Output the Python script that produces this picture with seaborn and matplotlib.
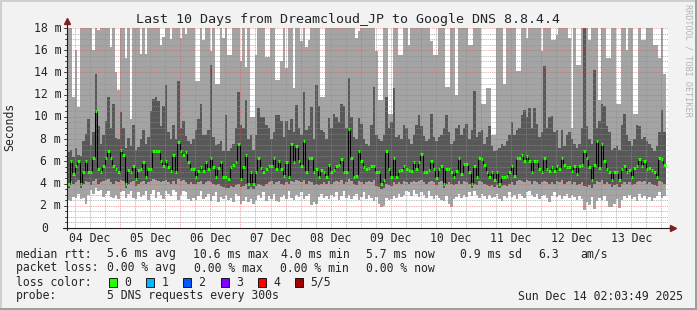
import numpy as np
import pandas as pd
import matplotlib
matplotlib.use("Agg")
import matplotlib.pyplot as plt
import seaborn as sns
from matplotlib.patches import Rectangle
from matplotlib.lines import Line2D

# ---------------- data (hourly bins, ms) ----------------
median_ms = [4.0,6.0,4.9,5.6,6.0,4.0,5.0,6.0,5.0,5.0,
 6.3,10.5,5.3,5.0,5.6,6.3,6.9,6.3,5.6,5.3,
 5.0,7.0,6.6,4.0,5.2,5.0,5.6,4.4,5.2,5.3,
 5.9,4.6,5.3,5.3,6.9,6.9,6.9,6.0,5.6,6.0,
 5.5,5.1,6.6,5.0,7.7,6.9,6.6,6.8,5.9,5.3,
 5.3,4.6,5.1,5.5,5.1,5.9,5.3,6.3,5.5,4.6,
 5.4,5.9,4.6,4.6,4.4,5.5,5.7,5.9,7.6,4.4,
 5.5,6.6,4.0,5.0,4.0,5.0,6.3,5.4,5.0,5.3,
 5.6,5.6,6.3,5.3,6.0,5.3,4.7,5.9,4.6,7.6,
 5.9,7.4,6.0,5.6,7.8,5.0,6.3,6.3,5.0,5.3,
 4.6,5.2,5.0,4.6,5.7,5.0,5.2,5.6,5.7,6.2,
 5.0,5.0,8.9,6.3,4.6,4.7,6.9,6.0,5.5,5.3,
 5.4,5.6,5.6,5.0,5.0,4.0,4.3,6.9,5.3,4.6,
 6.3,4.6,5.1,5.2,5.6,5.3,5.2,5.1,5.9,5.3,
 5.9,6.7,5.0,5.0,5.2,6.0,5.3,4.5,5.3,5.6,
 4.0,5.3,5.3,5.0,4.6,5.1,6.3,4.9,5.8,5.8,
 5.0,4.0,5.6,4.6,6.3,6.2,5.7,5.0,4.6,5.0,
 4.3,5.0,4.0,4.6,4.6,4.7,5.0,5.6,4.7,6.3,
 6.3,6.6,6.0,6.5,6.0,5.0,6.0,6.0,5.3,5.0,
 6.3,5.3,5.1,5.5,5.1,5.6,5.3,6.3,5.7,5.5,
 5.5,5.1,5.6,4.9,5.6,5.7,6.9,6.3,5.5,4.3,
 5.7,7.8,5.4,7.6,6.0,5.3,5.0,4.3,5.0,5.0,
 4.3,5.3,5.6,5.0,5.2,4.6,5.4,5.6,6.2,5.6,
 6.0,5.3,5.4,5.2,5.0,4.6,6.3,6.2,5.7]

# lowest ping (bottom of light smoke)
ping1_ms = [2.5,2.4,2.8,2.7,3.1,2.6,2.7,2.2,3.0,3.4,
 3.1,3.6,3.3,3.4,2.8,3.1,3.3,2.8,2.7,3.0,
 2.6,3.2,3.3,2.7,3.1,3.3,2.7,2.6,3.2,2.8,
 3.0,3.3,2.5,3.1,3.4,2.7,3.2,3.0,2.6,3.3,
 3.1,2.9,3.4,3.2,2.5,3.0,3.3,3.2,2.6,2.4,
 2.7,2.5,2.9,3.3,2.6,2.8,3.1,2.4,2.9,3.2,
 2.3,2.8,2.6,3.0,2.5,2.7,2.3,3.1,2.9,2.2,
 2.4,2.8,2.3,2.6,2.2,2.5,3.0,2.7,3.2,2.4,
 2.9,2.6,3.1,2.4,2.3,2.8,3.0,2.6,3.3,2.7,
 2.5,3.0,2.8,3.2,2.6,2.9,3.1,2.1,2.3,2.2,
 2.8,3.1,2.7,2.9,2.6,3.0,2.8,3.2,2.5,2.9,
 3.3,2.7,3.0,2.6,2.9,3.1,2.5,2.8,3.2,2.6,
 3.0,2.7,2.4,2.8,2.2,1.9,2.0,2.7,2.5,2.6,
 2.9,2.7,3.1,2.8,3.0,3.3,3.2,2.9,3.4,3.1,
 2.8,3.2,3.0,2.7,3.3,2.9,2.6,3.0,2.7,2.5,
 2.4,2.9,2.2,1.9,2.6,2.8,3.1,2.7,3.0,2.8,
 3.2,2.9,3.3,3.0,2.7,3.1,2.9,2.6,3.0,2.7,
 2.8,3.1,2.6,2.4,2.9,2.7,3.2,2.8,3.0,2.6,
 3.1,2.9,2.7,3.2,3.3,3.0,2.8,3.1,2.6,2.9,
 3.0,2.7,2.3,2.9,3.2,2.8,3.0,2.6,2.9,3.1,
 2.7,3.0,2.8,2.5,2.9,2.6,1.6,2.3,2.1,2.8,
 1.7,2.4,2.7,2.5,2.9,2.4,1.9,1.9,2.2,2.6,
 1.8,2.5,2.9,2.7,3.0,2.6,2.8,2.4,3.1,2.7,
 2.9,2.6,2.8,2.4,2.7,2.9,3.2,2.7,2.9]

# second ping (bottom of dark smoke)
ping2_ms = [3.6,4.2,4.0,4.1,4.3,3.6,4.0,4.2,4.1,3.9,
 4.2,4.4,4.0,4.1,4.2,4.3,4.4,4.1,4.0,4.2,
 4.1,4.3,4.2,3.6,4.0,4.1,4.2,3.8,4.0,4.1,
 4.2,4.0,4.1,4.2,4.4,4.3,4.2,4.1,4.2,4.3,
 4.1,4.0,4.2,4.0,4.4,4.2,4.3,4.1,4.0,4.1,
 4.0,4.0,4.1,4.2,4.0,4.1,4.2,4.1,4.0,3.9,
 4.0,3.8,3.7,3.6,3.6,3.8,3.7,3.9,4.0,3.7,
 3.8,4.0,3.5,3.7,3.5,3.8,4.0,3.9,3.8,4.0,
 4.1,4.2,4.0,4.1,4.2,4.0,3.9,4.1,4.0,4.2,
 4.1,4.3,4.2,4.1,4.3,4.0,4.2,4.1,3.9,4.0,
 3.9,4.0,4.1,4.0,4.2,4.0,4.1,4.2,4.1,4.3,
 4.0,4.1,4.4,4.2,4.0,3.9,4.2,4.1,4.0,4.1,
 4.2,4.1,4.3,3.8,3.7,3.5,3.6,4.0,3.9,3.8,
 4.1,4.0,4.1,4.0,4.2,4.1,4.0,4.1,4.2,4.1,
 4.2,4.3,4.1,4.0,4.1,4.2,4.1,3.9,4.1,4.2,
 3.6,4.0,4.1,4.0,3.9,4.0,4.2,4.0,4.2,4.1,
 4.0,3.6,4.0,3.9,4.2,4.1,4.0,3.9,3.8,3.9,
 3.7,3.9,3.6,3.8,3.9,3.8,4.0,4.1,3.9,4.2,
 4.3,4.2,4.1,4.3,4.2,4.0,4.2,4.1,4.0,4.1,
 4.2,4.1,4.0,4.1,4.0,4.2,4.1,4.3,4.0,4.1,
 4.2,4.0,4.1,3.9,4.0,4.1,3.8,3.7,3.9,3.6,
 4.0,4.2,4.1,4.3,4.0,4.1,4.0,3.7,3.9,4.0,
 3.7,4.0,4.1,4.0,4.1,3.9,4.0,4.1,4.2,4.1,
 4.2,4.0,4.1,4.0,3.9,3.8,4.2,4.1,4.0]

# fourth ping (top of dark smoke)
ping4_ms = [6.8,7.0,6.4,7.2,6.6,6.5,7.8,8.5,9.8,7.5,
 8.6,13.9,9.2,7.6,8.4,9.6,11.8,9.0,11.2,8.1,
 8.0,10.4,9.0,7.2,8.1,7.4,9.3,7.0,7.3,8.0,
 8.8,7.6,8.2,10.5,11.6,11.8,11.4,9.2,11.0,12.9,
 8.6,8.0,9.3,8.0,13.2,9.0,9.6,8.3,7.8,7.6,
 8.0,8.8,9.8,11.2,8.4,8.4,8.8,14.7,8.2,7.5,
 7.6,7.8,6.9,10.2,6.9,7.2,7.6,9.0,12.2,9.3,
 9.0,11.5,8.0,8.4,7.0,8.4,10.8,10.0,10.0,9.3,
 9.0,8.0,8.6,10.2,10.2,9.6,8.2,9.6,8.8,9.8,
 8.6,11.1,9.0,8.4,12.2,8.8,9.2,10.9,8.0,12.9,
 11.0,8.8,8.6,8.0,9.9,9.0,10.3,10.0,9.5,11.2,
 11.0,9.0,13.5,10.0,8.2,8.0,9.9,9.4,8.0,7.6,
 7.4,9.3,12.7,8.4,8.0,7.8,8.4,11.8,9.0,9.5,
 12.6,8.2,8.4,8.0,9.3,9.0,8.0,7.6,8.4,9.3,
 10.2,9.2,8.3,7.8,8.0,10.3,8.2,7.8,8.2,8.4,
 9.0,10.2,8.6,7.6,7.8,9.0,9.3,8.4,9.0,9.4,
 8.0,8.8,12.3,8.2,8.6,8.8,7.6,8.2,9.2,7.4,
 6.9,7.0,7.2,7.6,7.4,7.8,8.4,9.5,8.4,8.8,
 9.0,10.2,10.6,10.0,10.8,9.0,10.8,9.4,8.2,8.6,
 14.6,9.0,10.0,10.1,8.6,8.8,7.2,8.8,7.4,8.4,
 8.6,8.0,7.6,7.2,7.6,9.0,18.5,9.2,8.0,7.6,
 14.2,9.0,9.6,11.2,11.0,9.2,8.6,7.0,7.2,7.4,
 7.0,9.3,10.3,8.4,7.8,7.4,8.0,9.3,9.2,8.0,
 8.2,7.8,7.6,7.2,6.9,7.4,8.6,10.6,8.6]

# highest ping (top of light smoke; 18.5 = above the graph)
ping5_ms = [18.5,18.5,11.8,16.0,10.9,18.5,18.5,18.5,18.5,18.5,
 16.0,18.5,17.8,18.5,18.5,18.5,18.5,16.3,18.5,14.0,
 12.4,18.5,18.5,15.3,18.5,9.8,18.5,18.5,18.5,15.7,
 18.5,15.7,18.5,18.5,18.5,18.5,18.5,16.5,17.2,18.5,
 18.5,17.0,18.5,18.5,18.5,17.1,18.5,17.5,18.5,18.5,
 18.5,13.2,13.2,18.5,16.9,18.5,18.5,15.9,18.5,13.0,
 13.0,18.5,17.1,18.5,15.6,15.6,18.5,18.5,18.5,15.0,
 18.5,14.5,18.5,10.0,10.0,15.6,18.5,18.5,18.5,15.4,
 15.4,18.5,18.5,13.3,13.3,15.0,18.5,14.4,18.5,18.5,
 12.6,18.5,18.5,16.8,18.5,16.3,16.9,18.5,18.5,18.5,
 18.5,11.8,11.8,18.5,18.5,18.5,18.5,18.5,18.5,18.5,
 18.5,18.5,18.5,18.5,18.5,17.1,17.7,18.5,18.5,18.5,
 18.5,18.5,18.5,15.9,11.5,11.5,18.5,18.5,10.3,10.3,
 18.5,18.5,15.6,15.6,18.5,18.5,16.5,18.5,18.5,18.5,
 18.5,18.5,18.5,18.5,18.5,16.8,15.6,15.6,18.5,18.5,
 18.5,12.7,12.7,18.5,18.5,12.0,18.5,18.5,18.5,18.5,
 16.5,16.5,18.5,18.5,18.5,11.2,11.2,12.6,12.6,8.4,
 8.4,18.5,18.5,18.5,13.0,18.5,18.5,18.5,18.5,14.1,
 14.1,18.5,18.5,17.1,18.5,18.5,18.5,18.5,18.5,15.9,
 18.5,18.5,18.5,16.9,16.9,17.4,18.5,18.5,18.5,18.5,
 17.1,9.0,18.5,14.7,14.7,18.5,18.5,18.5,16.9,18.5,
 18.5,18.5,11.5,18.5,18.5,15.3,15.3,18.5,18.5,11.2,
 11.2,18.5,18.5,16.0,18.5,18.5,10.3,10.3,18.5,16.9,
 16.9,18.5,18.5,18.5,16.5,16.5,15.3,18.5,13.9]

day_labels = ["04 Dec", "05 Dec", "06 Dec", "07 Dec", "08 Dec",
              "09 Dec", "10 Dec", "11 Dec", "12 Dec", "13 Dec"]
y_tick_values = [0, 2, 4, 6, 8, 10, 12, 14, 16, 18]
y_tick_labels = ["0", "2 m", "4 m", "6 m", "8 m", "10 m", "12 m", "14 m", "16 m", "18 m"]
loss_labels = ["0", "1", "2", "3", "4", "5/5"]
loss_colors = ["#26ff00", "#00b8ff", "#0059ff", "#7e00ff", "#ff0000", "#a10000"]

title = "Last 10 Days from Dreamcloud_JP to Google DNS 8.8.4.4"
legend_rtt = [("median rtt:", 16), ("5.6 ms avg", 107), ("10.6 ms max", 193),
              ("4.0 ms min", 281), ("5.7 ms now", 366), ("0.9 ms sd", 460),
              ("6.3", 538), ("am/s", 580)]
legend_loss = [("packet loss:", 16), ("0.00 % avg", 107), ("0.00 % max", 194),
               ("0.00 % min", 280), ("0.00 % now", 366)]

# ---------------- figure ----------------
sns.set_style("white")
plt.rcParams['font.family'] = ['DejaVu Sans Mono']
FS = 8.3

W, H = 697, 310
fig = plt.figure(figsize=(W / 100, H / 100), dpi=100)
fig.patch.set_facecolor('#f2f2f2')

def fx(x):
    return x / W

def fy(y):
    return 1 - y / H

L, R, T, B = 66.5, 668.0, 28.0, 228.0
ax = fig.add_axes([fx(L), fy(B), (R - L) / W, (B - T) / H])
ax.set_facecolor('white')
X0 = 2.6
ax.set_xlim(X0, X0 + 240)
ax.set_ylim(0, 18)
for s in ax.spines.values():
    s.set_visible(False)

n = len(median_ms)
edges = 2.8 + np.arange(n + 1)
df = pd.DataFrame({"t": edges[:-1], "median": median_ms})

LIGHT = "#a4a4a4"
DARK = "#585858"
p1 = np.array(ping1_ms); p2 = np.array(ping2_ms)
p4 = np.array(ping4_ms); p5 = np.array(ping5_ms)
ax.stairs(p5, edges, baseline=p1, fill=True, color=LIGHT, lw=0, zorder=2)
ax.stairs(p4, edges, baseline=p2, fill=True, color=DARK, lw=0, zorder=2.1)

# grids (rrdtool defaults)
GRID = (0.56, 0.56, 0.56, 0.7)
MGRID = (0.87, 0.31, 0.31, 0.55)
dash = (0, (1, 1))
for v in np.arange(0.5, 18.01, 0.5):
    if abs(v % 2) > 1e-6:
        ax.axhline(v, color=GRID, lw=0.65, ls=dash, zorder=3)
for h in range(6, 246, 6):
    if h % 24 != 0:
        ax.axvline(h, color=GRID, lw=0.65, ls=dash, zorder=3)
for v in range(2, 19, 2):
    ax.axhline(v, color=MGRID, lw=0.65, ls=dash, zorder=3.1)
for h in range(24, 246, 24):
    ax.axvline(h, color=MGRID, lw=0.65, ls=dash, zorder=3.1)

# median: black step connectors + green loss-colour ticks
sns.lineplot(data=df, x="t", y="median", drawstyle="steps-post", color="#000000",
             lw=0.75, ax=ax, zorder=4, legend=False)
ax.hlines(median_ms, edges[:-1], edges[1:], color=loss_colors[0], lw=2.2, zorder=5)
ax.set_xlabel("")
ax.set_ylabel("")
ax.set_xticks([])
ax.set_yticks([])
ax.set_xlim(X0, X0 + 240)
ax.set_ylim(0, 18)

# axes lines and arrows
AXIS = "#1f1f1f"
ARROW = "#801f1f"
fig.add_artist(Line2D([fx(L), fx(L)], [fy(B + 2), fy(22)], color=AXIS, lw=0.8))
fig.add_artist(Line2D([fx(63), fx(671)], [fy(B), fy(B)], color=AXIS, lw=0.8))
fig.add_artist(Line2D([fx(L)], [fy(21)], marker="^", markersize=4.5, color=ARROW, lw=0))
fig.add_artist(Line2D([fx(673)], [fy(B)], marker=">", markersize=4.5, color=ARROW, lw=0))
for v in np.arange(0, 18.01, 0.5):
    yy = B - v * (B - T) / 18
    ln = 3 if abs(v % 2) < 1e-6 else 2
    fig.add_artist(Line2D([fx(L - ln), fx(L)], [fy(yy), fy(yy)], color=AXIS, lw=0.6))

# text
fig.text(fx(348), fy(19), title, ha="center", va="center", fontsize=9.6)
for v, lab in zip(y_tick_values, y_tick_labels):
    yy = B - v * (B - T) / 18
    xr = 61 if v != 0 else 48
    fig.text(fx(xr), fy(yy), lab, ha="right", va="center", fontsize=FS)
for k, lab in enumerate(day_labels):
    xc = L + (12 + 24 * k - X0) * (R - L) / 240
    fig.text(fx(xc), fy(238), lab, ha="center", va="center", fontsize=FS)
fig.text(fx(10), fy(127), "Seconds", rotation=90, ha="center", va="center", fontsize=FS)
fig.text(fx(688), fy(60), "RRDTOOL / TOBI OETIKER", rotation=270, ha="center",
         va="center", fontsize=6.1, color="#b4b4b4")

for s, x in legend_rtt:
    fig.text(fx(x), fy(254), s, ha="left", va="center", fontsize=FS)
for s, x in legend_loss:
    fig.text(fx(x), fy(268), s, ha="left", va="center", fontsize=FS)
fig.text(fx(16), fy(282), "loss color:", ha="left", va="center", fontsize=FS)
sq_x = [108.5, 146, 183, 220.5, 257.5, 294.5]
for c, lab, x in zip(loss_colors, loss_labels, sq_x):
    fig.add_artist(Rectangle((fx(x), fy(286.5)), 8 / W, 9 / H, transform=fig.transFigure,
                             facecolor=c, edgecolor="#000000", lw=0.6))
    fig.text(fx(x + 15.5), fy(282), lab, ha="left", va="center", fontsize=FS)
fig.text(fx(16), fy(296), "probe:", ha="left", va="center", fontsize=FS)
fig.text(fx(107), fy(296), "5 DNS requests every 300s", ha="left", va="center", fontsize=FS)
fig.text(fx(683), fy(296), "Sun Dec 14 02:03:49 2025", ha="right", va="center", fontsize=FS)

# rrdtool 3D frame
SHADEA = "#cfcfcf"
SHADEB = "#9e9e9e"
fig.add_artist(Rectangle((0, fy(2)), 1, 2 / H, transform=fig.transFigure, color=SHADEA, lw=0))
fig.add_artist(Rectangle((0, 0), 2 / W, 1, transform=fig.transFigure, color=SHADEA, lw=0))
fig.add_artist(Rectangle((0, 0), 1, 2 / H, transform=fig.transFigure, color=SHADEB, lw=0))
fig.add_artist(Rectangle((fx(695), 0), 2 / W, 1, transform=fig.transFigure, color=SHADEB, lw=0))

fig.savefig("out.png", dpi=100, facecolor=fig.get_facecolor())
